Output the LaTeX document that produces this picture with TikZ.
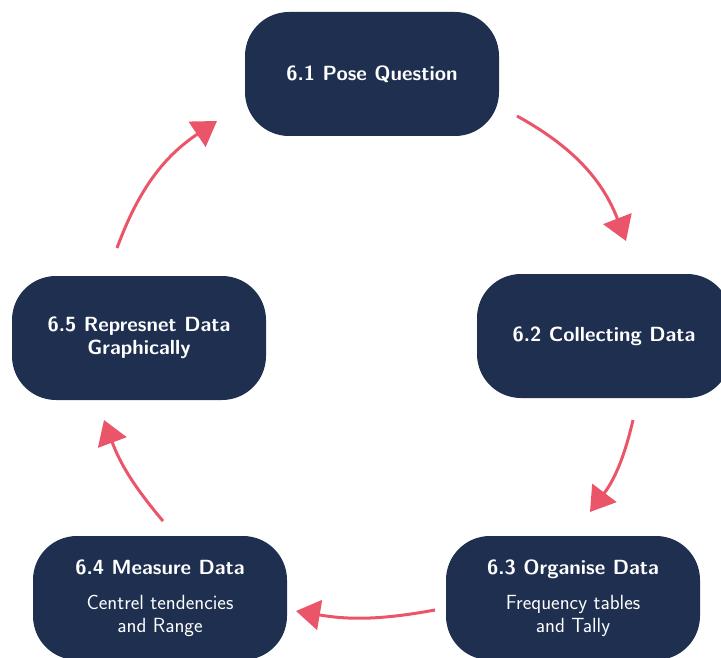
\documentclass[tikz,border=0pt]{standalone}
\usetikzlibrary{arrows.meta}
\definecolor{navy}{RGB}{31,47,80}
\definecolor{coral}{RGB}{235,85,105}
\begin{document}
\begin{tikzpicture}[x=1pt,y=-1pt,
	stage/.style={fill=navy,text=white,rounded corners=44pt,minimum width=254pt,minimum height=124pt,align=center,font=\sffamily\fontsize{20.5}{23}\selectfont},
	flow/.style={draw=coral,line width=3pt,-{Triangle[length=24pt,width=30pt]}}]
	\clip (0,0) rectangle (721,658);
	\node[stage] (s1) at (372,74) {\bfseries 6.1 Pose Question};
	\node[stage] (s2) at (604,336) {\bfseries 6.2 Collecting Data};
	\node[stage] (s3) at (573,598) {\bfseries 6.3 Organise Data\\[12pt] Frequency tables\\ and Tally};
	\node[stage] (s4) at (160,598) {\bfseries 6.4 Measure Data\\[12pt] Centrel tendencies\\ and Range};
	\node[stage] (s5) at (139,338) {\bfseries 6.5 Represnet Data\\ \bfseries Graphically};
	% arrow ends
	\coordinate (a1) at (517,116);
	\coordinate (b1) at (626,241);
	\coordinate (a2) at (633,420);
	\coordinate (b2) at (590,512);
	\coordinate (a3) at (435,610);
	\coordinate (b3) at (296,611);
	\coordinate (a4) at (163,521);
	\coordinate (b4) at (104,420);
	\coordinate (a5) at (117,248);
	\coordinate (b5) at (217,121);
	\draw[flow] (a1) to[bend left=20] (b1);
	\draw[flow] (a2) to[bend left=12] (b2);
	\draw[flow] (a3) to[bend left=10] (b3);
	\draw[flow] (a4) to[bend left=10] (b4);
	\draw[flow] (a5) to[bend left=18] (b5);
\end{tikzpicture}
\end{document}
